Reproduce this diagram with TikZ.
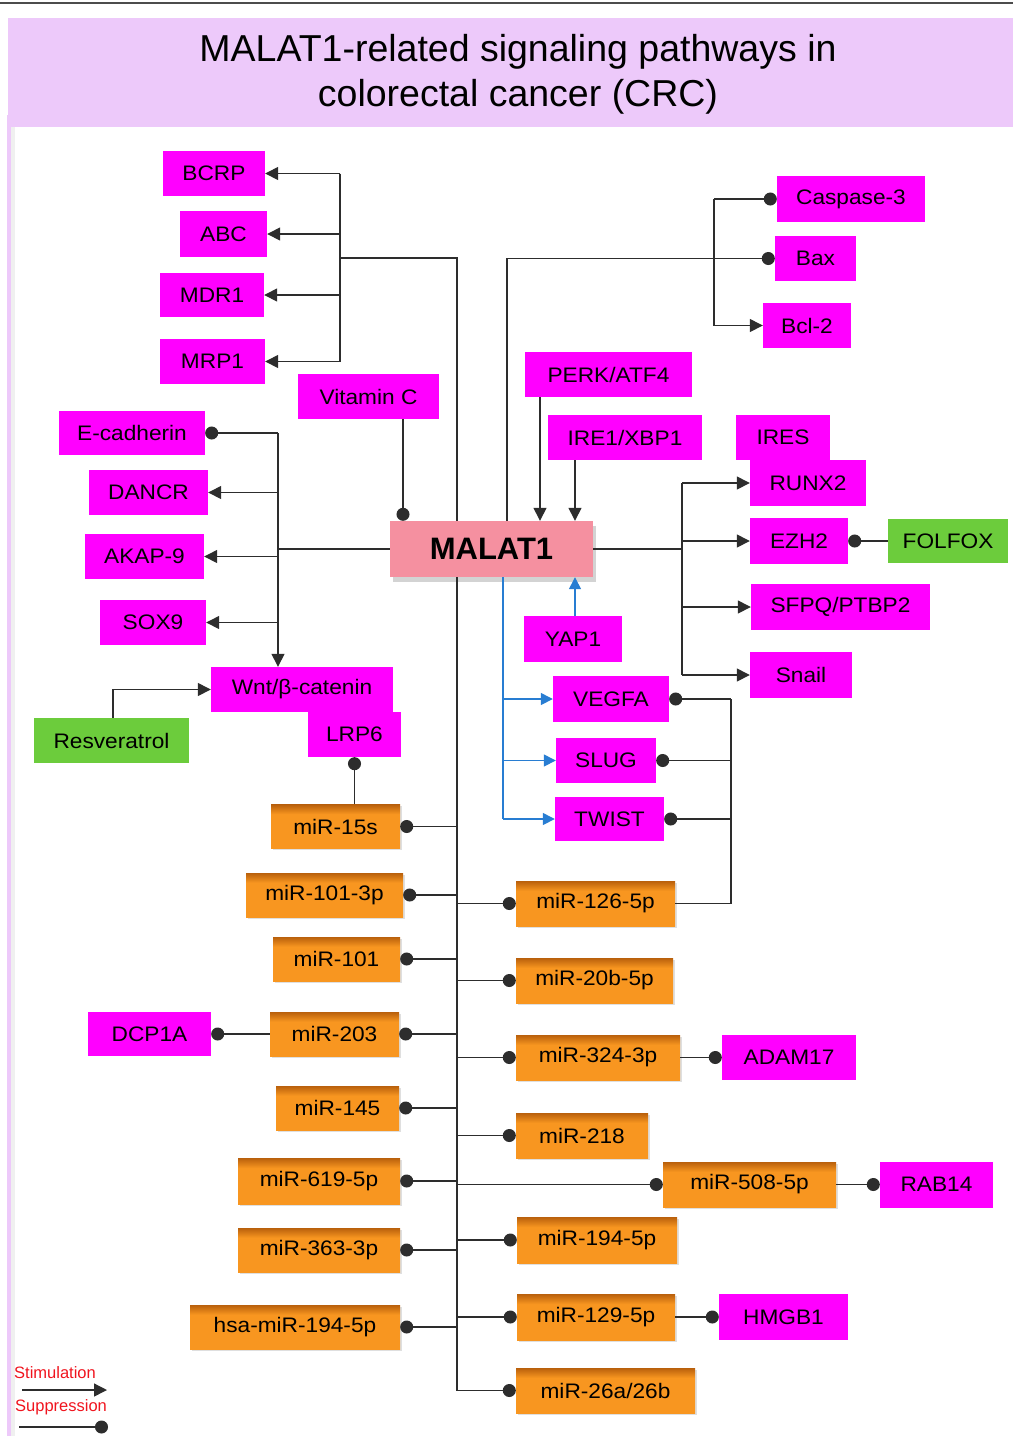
\documentclass[tikz,border=0pt]{standalone}
\usepackage{fontspec}
\setmainfont{Liberation Sans}
\newfontfamily\boxfont[FakeStretch=1.08]{Liberation Sans}
\usetikzlibrary{arrows.meta,shadows}
\definecolor{mg}{RGB}{255,0,255}
\definecolor{gr}{RGB}{108,204,60}
\definecolor{orL}{RGB}{248,150,32}
\definecolor{orD}{RGB}{185,96,12}
\definecolor{pk}{RGB}{245,144,160}
\definecolor{lav}{RGB}{237,201,250}
\definecolor{blc}{RGB}{40,125,210}
\definecolor{lnc}{RGB}{45,45,45}
\definecolor{rd}{RGB}{240,20,30}
\pgfdeclareverticalshading{orsh}{100bp}{color(0bp)=(orL); color(25bp)=(orL); color(64bp)=(orL); color(75bp)=(orD); color(100bp)=(orD)}
\tikzset{
  base/.style={rectangle, inner sep=0pt, font=\boxfont\fontsize{21}{25}\selectfont, text=black},
  sz/.style 2 args={minimum width=#1pt, minimum height=#2pt},
  mgbox/.style={base, fill=mg},
  grbox/.style={base, fill=gr},
  orbox/.style={base, shading=orsh, drop shadow={shadow xshift=1.5pt, shadow yshift=-1.5pt, opacity=0.25}},
  ln/.style={draw=lnc, line width=1.4pt},
  bln/.style={draw=blc, line width=1.4pt},
  stim/.style={-{Triangle[length=13pt,width=13pt]}},
  bstim/.style={-{Triangle[length=12pt,width=12pt]}},
  supp/.style={-{Circle[length=13pt]}},
  legtxt/.style={font=\fontsize{16.5}{18}\selectfont, text=rd, inner sep=0pt, anchor=west}
}
\begin{document}
\begin{tikzpicture}[x=1pt,y=-1pt]
\useasboundingbox (0,0) rectangle (1013,1436);
% frame and title
\draw[gray!60!black, line width=1.5pt] (0,3) -- (1013,3);
\fill[gray!12] (11,127) rectangle (15,1436);
\fill[lav] (7,115) rectangle (11,1436);
\fill[lav] (8,18) rectangle (1013,127);
\node[font=\fontsize{37.5}{40}\selectfont, inner sep=0pt] (t1) at (518,52) {MALAT1-related signaling pathways in};
\node[font=\fontsize{37.5}{40}\selectfont, inner sep=0pt] (t2) at (518,97) {colorectal cancer (CRC)};

% upper left
\node[mgbox,sz={102}{45}] (bcrp) at (214,173.5) {BCRP};
\node[mgbox,sz={87}{46}] (abc) at (223.5,234) {ABC};
\node[mgbox,sz={104}{44}] (mdr1) at (212,295) {MDR1};
\node[mgbox,sz={105}{45}] (mrp1) at (212.5,361.5) {MRP1};
\node[mgbox,sz={141}{45}] (vitc) at (368.5,396.5) {Vitamin C};
\node[mgbox,sz={146}{44}] (ecad) at (132,433) {E-cadherin};
\node[mgbox,sz={119}{45}] (dancr) at (148.5,492.5) {DANCR};
\node[mgbox,sz={119}{45}] (akap) at (144.5,556.5) {AKAP-9};
\node[mgbox,sz={106}{45}] (sox9) at (153,622.5) {SOX9};
\node[mgbox,sz={182}{45}] (wnt) at (302,689.5) {Wnt/β-catenin};
\node[mgbox,sz={93}{45}] (lrp6) at (354.5,734.5) {LRP6};
\node[grbox,sz={155}{45}] (resv) at (111.5,740.5) {Resveratrol};

% MALAT1
\node[base, fill=pk, sz={203}{56}, font=\fontsize{31}{34}\selectfont\bfseries,
      drop shadow={shadow xshift=3pt, shadow yshift=-5pt, opacity=0.35}] (malat) at (491.5,549) {MALAT1};

% upper right
\node[mgbox,sz={148}{46}] (casp) at (851,199) {Caspase-3};
\node[mgbox,sz={81}{45}] (bax) at (815.5,258.5) {Bax};
\node[mgbox,sz={88}{45}] (bcl2) at (807,325.5) {Bcl-2};
\node[mgbox,sz={167}{45}] (perk) at (608.5,374.5) {PERK/ATF4};
\node[mgbox,sz={154}{45}] (ire1) at (625,437.5) {IRE1/XBP1};
\node[mgbox,sz={94}{45}] (ires) at (783,437.5) {IRES};
\node[mgbox,sz={116}{46}] (runx2) at (808,483) {RUNX2};
\node[mgbox,sz={98}{46}] (ezh2) at (799,541) {EZH2};
\node[grbox,sz={120}{44}] (folfox) at (948,541) {FOLFOX};
\node[mgbox,sz={179}{46}] (sfpq) at (840.5,607) {SFPQ/PTBP2};
\node[mgbox,sz={102}{46}] (snail) at (801,675) {Snail};
\node[mgbox,sz={98}{46}] (yap1) at (573,639) {YAP1};
\node[mgbox,sz={116}{46}] (vegfa) at (611,699) {VEGFA};
\node[mgbox,sz={100}{45}] (slug) at (606,760.5) {SLUG};
\node[mgbox,sz={109}{44}] (twist) at (609.5,819) {TWIST};

% left miRNAs
\node[orbox,sz={129}{44}] (m15s) at (335.5,826.5) {miR-15s};
\node[orbox,sz={157}{44}] (m1013p) at (324.5,895) {miR-101-3p};
\node[orbox,sz={127}{44}] (m101) at (336.5,959) {miR-101};
\node[orbox,sz={129}{44}] (m203) at (334.5,1034) {miR-203};
\node[mgbox,sz={123}{44}] (dcp1a) at (149.5,1034) {DCP1A};
\node[orbox,sz={123}{44}] (m145) at (337.5,1108) {miR-145};
\node[orbox,sz={162}{46}] (m619) at (319,1181) {miR-619-5p};
\node[orbox,sz={162}{44}] (m363) at (319,1250) {miR-363-3p};
\node[orbox,sz={210}{44}] (hsa194) at (295,1327) {hsa-miR-194-5p};

% right miRNAs
\node[orbox,sz={159}{45}] (m126) at (595.5,903.5) {miR-126-5p};
\node[orbox,sz={157}{45}] (m20b) at (594.5,980.5) {miR-20b-5p};
\node[orbox,sz={164}{45}] (m324) at (598,1057.5) {miR-324-3p};
\node[mgbox,sz={134}{45}] (adam17) at (789,1057.5) {ADAM17};
\node[orbox,sz={132}{45}] (m218) at (582,1135.5) {miR-218};
\node[orbox,sz={173}{45}] (m508) at (749.5,1184.5) {miR-508-5p};
\node[mgbox,sz={113}{46}] (rab14) at (936.5,1184.5) {RAB14};
\node[orbox,sz={160}{46}] (m194) at (597,1240) {miR-194-5p};
\node[orbox,sz={158}{46}] (m129) at (596,1317) {miR-129-5p};
\node[mgbox,sz={129}{46}] (hmgb1) at (783.5,1317) {HMGB1};
\node[orbox,sz={179}{45}] (m26) at (605.5,1390.5) {miR-26a/26b};

% ---- connectors ----
% drug resistance group
\coordinate (jA) at (340,258);
\coordinate (jA2) at (457,258);
\draw[ln] (malat.north -| jA2) -- (jA2) -- (jA);
\draw[ln] (jA |- bcrp) -- (jA |- mrp1);
\draw[ln,stim] (jA |- bcrp) -- (bcrp.east);
\draw[ln,stim] (jA |- abc) -- (abc.east);
\draw[ln,stim] (jA |- mdr1) -- (mdr1.east);
\draw[ln,stim] (jA |- mrp1) -- (mrp1.east);

% vitamin C
\coordinate (xV) at (403,0);
\draw[ln,supp] (vitc.south -| xV) -- (malat.north -| xV);

% EMT / Wnt group
\coordinate (jC) at (278,546);
\draw[ln] (malat.west) -- (malat.west -| jC);
\draw[ln,supp] (jC |- ecad) -- (ecad.east);
\draw[ln,stim] (jC |- ecad) -- (jC |- wnt.north);
\draw[ln,stim] (jC |- dancr) -- (dancr.east);
\draw[ln,stim] (jC |- akap) -- (akap.east);
\draw[ln,stim] (jC |- sox9) -- (sox9.east);
\coordinate (xR0) at (113,0);
\draw[ln,stim] (resv.north -| xR0) |- (wnt.west);
\draw[ln,supp] (m15s.north -| lrp6.south) -- (lrp6.south);

% apoptosis group
\coordinate (xU) at (507,0);
\coordinate (jD) at (714,258);
\draw[ln,supp] (malat.north -| xU) |- (bax.west);
\draw[ln] (jD |- casp) -- (jD |- bcl2);
\draw[ln,supp] (jD |- casp) -- (casp.west);
\draw[ln,stim] (jD |- bcl2) -- (bcl2.west);

% ER stress
\coordinate (xP) at (540,0);
\coordinate (xI) at (575,0);
\draw[ln,stim] (perk.south -| xP) -- (malat.north -| xP);
\draw[ln,stim] (ire1.south -| xI) -- (malat.north -| xI);

% right group
\coordinate (jE) at (682,547);
\draw[ln] (malat.east) -- (malat.east -| jE);
\draw[ln] (jE |- runx2) -- (jE |- snail);
\draw[ln,stim] (jE |- runx2) -- (runx2.west);
\draw[ln,stim] (jE |- ezh2) -- (ezh2.west);
\draw[ln,stim] (jE |- sfpq) -- (sfpq.west);
\draw[ln,stim] (jE |- snail) -- (snail.west);
\draw[ln,supp] (folfox.west) -- (ezh2.east);

% YAP1 and blue group
\draw[bln,bstim] (yap1.north -| xI) -- (malat.south -| xI);
\coordinate (xB) at (503,0);
\draw[bln] (malat.south -| xB) -- (twist -| xB);
\draw[bln,bstim] (vegfa -| xB) -- (vegfa.west);
\draw[bln,bstim] (slug -| xB) -- (slug.west);
\draw[bln,bstim] (twist -| xB) -- (twist.west);

% miR-126 feedback
\coordinate (xR) at (731,0);
\draw[ln] (m126.east) -| (xR |- vegfa);
\draw[ln,supp] (xR |- vegfa) -- (vegfa.east);
\draw[ln,supp] (xR |- slug) -- (slug.east);
\draw[ln,supp] (xR |- twist) -- (twist.east);

% main miRNA trunk
\coordinate (xM) at (457,0);
\draw[ln] (malat.south -| xM) -- (m26 -| xM);
\foreach \n in {m15s,m1013p,m101,m203,m145,m619,m363,hsa194}
  \draw[ln,supp] (\n -| xM) -- (\n.east);
\foreach \n in {m126,m20b,m324,m218,m508,m194,m129,m26}
  \draw[ln,supp] (\n -| xM) -- (\n.west);
\draw[ln,supp] (m203.west) -- (dcp1a.east);
\draw[ln,supp] (m324.east) -- (adam17.west);
\draw[ln,supp] (m508.east) -- (rab14.west);
\draw[ln,supp] (m129.east) -- (hmgb1.west);

% legend
\node[legtxt] (lg1) at (14,1373) {Stimulation};
\node[legtxt] (lg2) at (15,1407) {Suppression};
\coordinate (la1) at (22,1390);
\coordinate (la2) at (107,1390);
\coordinate (lb1) at (19,1427);
\coordinate (lb2) at (108,1427);
\draw[ln,stim] (la1) -- (la2);
\draw[ln,supp] (lb1) -- (lb2);
\end{tikzpicture}
\end{document}
